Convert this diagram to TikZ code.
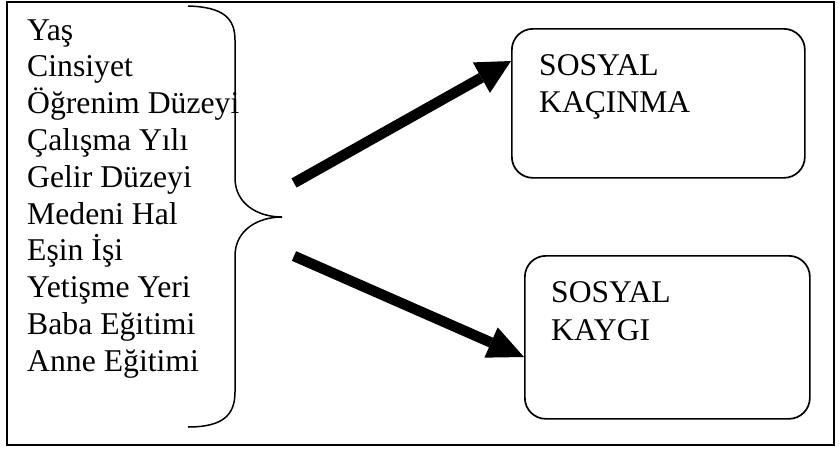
\documentclass[tikz,border=0pt]{standalone}
\usepackage{fontspec}
\setmainfont{Liberation Serif}
\usetikzlibrary{calc}
\begin{document}
\begin{tikzpicture}[x=1pt,y=-1pt,
  frame/.style={draw=black,line width=2pt},
  outbox/.style={draw=black,line width=1.7pt,rounded corners=21pt,inner sep=0pt},
  listtxt/.style={anchor=base west,inner sep=0pt,font=\fontsize{31.7pt}{36.8pt}\selectfont},
  boxtxt/.style={anchor=base west,inner sep=0pt,font=\fontsize{31.6pt}{37pt}\selectfont},
  bracestyle/.style={draw=black,line width=1.5pt},
  shaft/.style={draw=black,line width=10.5pt},
  headfill/.style={fill=black}]
\useasboundingbox (0,0) rectangle (840,450);
\draw[frame] (7,2) rectangle (834,445);
% list
\foreach \t [count=\i] in {Yaş,Cinsiyet,Öğrenim Düzeyi,Çalışma Yılı,Gelir Düzeyi,Medeni Hal,Eşin İşi,Yetişme Yeri,Baba Eğitimi,Anne Eğitimi}
  \node[listtxt] (l\i) at (27,{40+36.8*(\i-1)}) {\t};
% brace
\draw[bracestyle] (188,6) .. controls (223,7) and (235,18) .. (235,40)
  -- (235,178) .. controls (235,204) and (258,217) .. (282,217)
  .. controls (258,217) and (235,230) .. (235,256)
  -- (235,392) .. controls (235,415) and (223,427) .. (188,427);
% boxes
\node[outbox,minimum width=293pt,minimum height=149pt,anchor=north west] (k1) at (511,28) {};
\node[outbox,minimum width=285pt,minimum height=163pt,anchor=north west] (k2) at (524,255) {};
\node[boxtxt] (t1a) at (539,75) {SOSYAL};
\node[boxtxt] (t1b) at (539,112) {KAÇINMA};
\node[boxtxt] (t2a) at (551,302) {SOSYAL};
\node[boxtxt] (t2b) at (551,340) {KAYGI};
% arrows
\coordinate (s1) at (294,183);
\coordinate (s2) at (294,256);
\coordinate (e1) at ($(k1.north west)+(0,33)$);
\coordinate (e2) at ($(k2.north west)+(0,102)$);
\coordinate (b1) at ($(e1)!34pt!(s1)$);
\coordinate (b2) at ($(e2)!36pt!(s2)$);
\draw[shaft] (s1) -- (b1);
\draw[shaft] (s2) -- (b2);
\fill[headfill] ($(b1)!17.5pt!90:(e1)$) -- (e1) -- ($(b1)!17.5pt!-90:(e1)$) -- cycle;
\fill[headfill] ($(b2)!16.5pt!90:(e2)$) -- (e2) -- ($(b2)!16.5pt!-90:(e2)$) -- cycle;
\end{tikzpicture}
\end{document}
